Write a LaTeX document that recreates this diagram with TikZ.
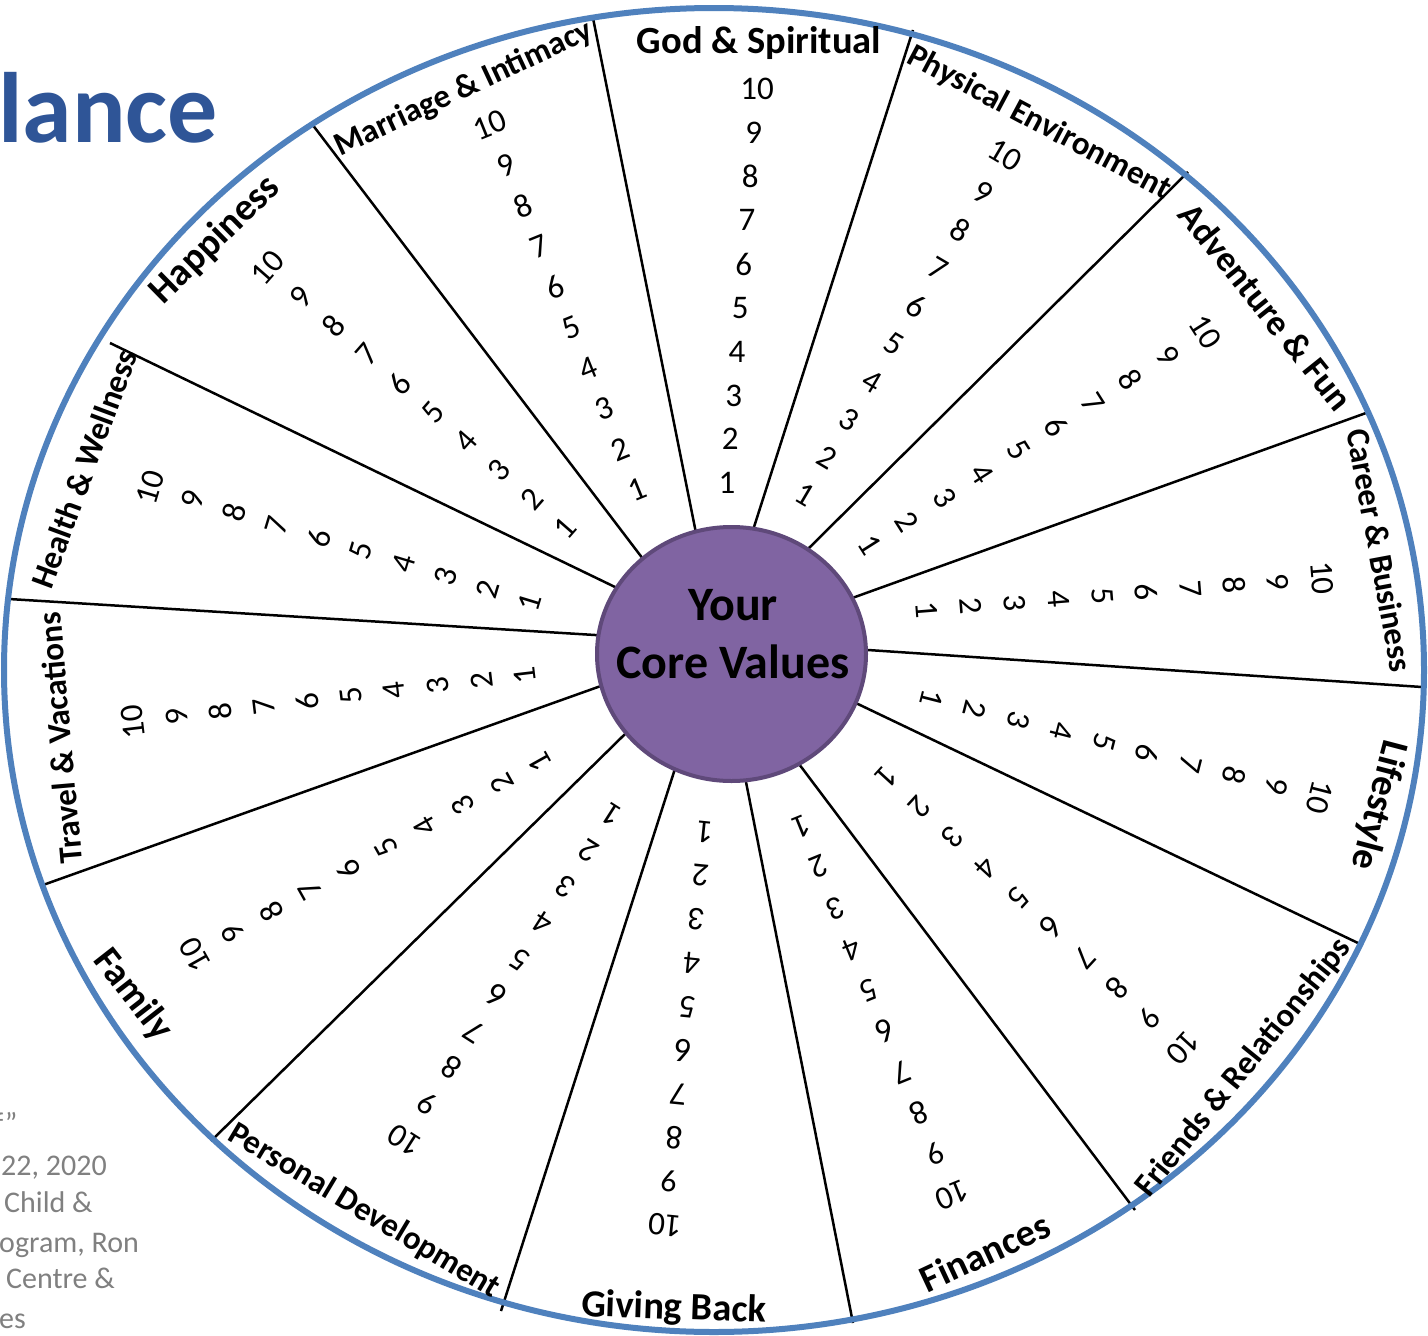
\documentclass[tikz,border=0pt]{standalone}
\usepackage{fontspec}
\setmainfont{Carlito}
\usetikzlibrary{shapes.geometric}
\definecolor{ringblue}{RGB}{79,129,189}
\definecolor{corefill}{RGB}{128,100,162}
\definecolor{coreedge}{RGB}{95,73,122}
\definecolor{titleblue}{RGB}{47,85,151}
\definecolor{notegray}{RGB}{128,128,128}

% one column of scores 1..10 between the positions of "1" and "10"
\newcommand{\scorecol}[6]{%
  \foreach \k in {1,...,10}{%
    \pgfmathsetmacro{\colx}{#2+(\k-1)/9*(#4-#2)}%
    \pgfmathsetmacro{\coly}{#3+(\k-1)/9*(#5-#3)}%
    \node[num, rotate=#6] (#1-\k) at (\colx,\coly) {\k};
  }%
}

\begin{document}
\begin{tikzpicture}[x=1pt,y=-1pt,
  num/.style={font=\fontsize{33}{40}\selectfont, inner sep=0pt},
  lab/.style={font=\bfseries\fontsize{33}{40}\selectfont, inner sep=0pt},
  biglab/.style={font=\bfseries\fontsize{38.5}{46}\selectfont, inner sep=0pt},
  spoke/.style={line width=2.5pt, shorten >=-15pt},
  ring/.style={draw=ringblue, line width=6pt},
  core/.style={ellipse, draw=coreedge, line width=4pt, fill=corefill,
    minimum width=269pt, minimum height=254pt, inner sep=0pt},
  coretext/.style={font=\bfseries\fontsize{48}{58}\selectfont, inner sep=0pt, anchor=base},
  note/.style={font=\fontsize{30}{38}\selectfont, text=notegray, inner sep=0pt, anchor=base west}]

\useasboundingbox (0,0) rectangle (1428,1336);
\clip (0,0) rectangle (1428,1336);
\fill[white] (0,0) rectangle (1428,1336);

% heading and side note
\node[font=\bfseries\fontsize{100}{120}\selectfont, text=titleblue, inner sep=0pt, anchor=base east] (heading) at (218,142) {lance};
\node[note] (note1) at (-6,1133) {f\symbol{34}};
\node[note] (note2) at (1,1175) {22, 2020};
\node[note] (note3) at (4,1212) {Child \&};
\node[note] (note4) at (-1,1252) {ogram, Ron};
\node[note] (note5) at (6,1288) {Centre \&};
\node[note] (note6) at (-1,1328) {es};

% spoke ends on the rim and at the hub
\coordinate (o1) at (593,18);    \coordinate (i1) at (695,528);
\coordinate (o2) at (913,30);    \coordinate (i2) at (754,527);
\coordinate (o3) at (1188,172);  \coordinate (i3) at (810,547);
\coordinate (o4) at (1366,413);  \coordinate (i4) at (855,597);
\coordinate (o5) at (1422,687);  \coordinate (i5) at (868,650);
\coordinate (o6) at (1358,943);  \coordinate (i6) at (860,705);
\coordinate (o7) at (1135,1210); \coordinate (i7) at (802,768);
\coordinate (o8) at (853,1323);  \coordinate (i8) at (747,787);
\coordinate (o9) at (501,1311);  \coordinate (i9) at (673,775);
\coordinate (o10) at (211,1141); \coordinate (i10) at (622,737);
\coordinate (o11) at (43,885);   \coordinate (i11) at (598,687);
\coordinate (o12) at (9,599);    \coordinate (i12) at (595,635);
\coordinate (o13) at (110,343);  \coordinate (i13) at (615,587);
\coordinate (o14) at (312,124);  \coordinate (i14) at (640,555);
\foreach \s in {1,...,14}{\draw[spoke] (o\s) -- (i\s);}

% rim
\draw[ring] (714,670) ellipse [x radius=710pt, y radius=662pt];

% hub
\node[core] (core) at (731.5,654) {};
\node[coretext] (coreA) at (733,620) {Your};
\node[coretext] (coreB) at (733,678) {Core Values};

% sector titles
\node[biglab] (godlab) at (759,43) {God \& Spiritual};
\node[lab, rotate=-28] (physlab) at (1039,123) {Physical Environment};
\node[lab, font=\bfseries\fontsize{36}{42}\selectfont, rotate=-51.3] (advlab) at (1266,307) {Adventure \& Fun};
\node[lab, rotate=-79.4] (carlab) at (1380,550) {Career \& Business};
\node[biglab, rotate=-104.7] (lifelab) at (1378,805) {Lifestyle};
\node[lab, rotate=51] (frilab) at (1244,1068) {Friends \& Relationships};
\node[biglab, rotate=25] (finlab) at (985,1252) {Finances};
\node[biglab, rotate=-2] (givelab) at (674,1309) {Giving Back};
\node[lab, rotate=-30.9] (perslab) at (364,1211) {Personal Development};
\node[biglab, rotate=-52] (famlab) at (133,995) {Family};
\node[lab, rotate=95] (travlab) at (60,738) {Travel \& Vacations};
\node[lab, rotate=69.7] (healab) at (84,469) {Health \& Wellness};
\node[biglab, rotate=44.4] (haplab) at (215,240) {Happiness};
\node[lab, rotate=25] (marlab) at (464,89) {Marriage \& Intimacy};

% score columns: name, "1" x y, "10" x y, rotation
\scorecol{god}{727}{483}{757}{89}{0}
\scorecol{phys}{805}{495}{1005}{155}{-30.5}
\scorecol{adv}{870}{545}{1205}{332}{-57.6}
\scorecol{car}{927}{610}{1322}{578}{-85.4}
\scorecol{life}{932}{698}{1320}{797}{-104.3}
\scorecol{fri}{887}{777}{1183}{1048}{-132.5}
\scorecol{fin}{802}{826}{952}{1195}{-157.9}
\scorecol{give}{705}{832}{665}{1225}{174.2}
\scorecol{pers}{612}{815}{405}{1140}{147.5}
\scorecol{fam}{540}{762}{195}{955}{119.2}
\scorecol{trav}{525}{675}{133}{722}{96.8}
\scorecol{hea}{530}{602}{150}{487}{73.2}
\scorecol{hap}{565}{528}{268}{268}{48.8}
\scorecol{mar}{637}{490}{490}{125}{22}

\end{tikzpicture}
\end{document}
